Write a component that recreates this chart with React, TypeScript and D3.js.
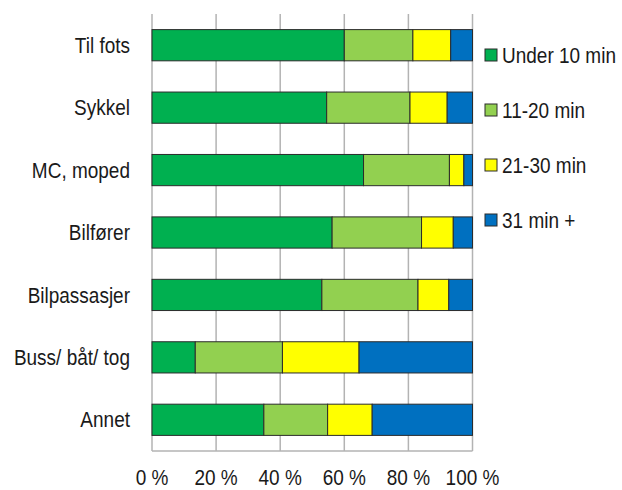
import React from "react";
import * as d3 from "d3";

const categories = ["Til fots", "Sykkel", "MC, moped", "Bilfører", "Bilpassasjer", "Buss/ båt/ tog", "Annet"];
const seriesNames = ["Under 10 min", "11-20 min", "21-30 min", "31 min +"];
const under10 = [60.0, 54.5, 66.0, 56.2, 53.0, 13.5, 34.9];
const min11to20 = [21.4, 26.0, 26.8, 27.9, 30.0, 27.2, 19.9];
const min21to30 = [11.8, 11.6, 4.5, 9.9, 9.6, 23.9, 13.9];
const min31plus = [6.8, 7.9, 2.7, 6.0, 7.4, 35.4, 31.3];
const tickValues = [0, 20, 40, 60, 80, 100];
const colors = ["#00B050", "#92D050", "#FFFF00", "#0070C0"];

const W = 622;
const H = 490;
const margin = { left: 152, right: 150, top: 14, bottom: 39 };
const font = "'Liberation Sans', Arial, sans-serif";
const sy = 1.12;

export default function App() {
  const x = d3.scaleLinear().domain([0, 100]).range([margin.left, 472.5]);
  const y = d3
    .scaleBand<string>()
    .domain(categories)
    .range([margin.top, H - margin.bottom])
    .paddingInner(0.5)
    .paddingOuter(0.25);

  const rows = categories.map((c, i) => ({
    cat: c,
    "0": under10[i],
    "1": min11to20[i],
    "2": min21to30[i],
    "3": min31plus[i],
  }));
  const stacked = d3.stack<any>().keys(["0", "1", "2", "3"])(rows);

  const y0 = margin.top;
  const y1 = H - margin.bottom;

  return (
    <svg width={W} height={H} style={{ position: "absolute", left: 0, top: 0, background: "#fff" }}>
      <rect x={0} y={0} width={W} height={H} fill="#fff" />
      {tickValues.map((t) => (
        <line key={t} x1={x(t)} x2={x(t)} y1={y0} y2={y1} stroke="#b3b3b3" strokeWidth={1.5} />
      ))}
      <line x1={x(0)} x2={x(100)} y1={y1} y2={y1} stroke="#b3b3b3" strokeWidth={1.5} />
      {stacked.map((layer, si) =>
        layer.map((d, i) => (
          <rect
            key={si + "-" + i}
            x={x(d[0])}
            y={y(categories[i])!}
            width={x(d[1]) - x(d[0])}
            height={y.bandwidth()}
            fill={colors[si]}
            stroke="#2b2b2b"
            strokeWidth={1}
          />
        ))
      )}
      {categories.map((c) => (
        <text
          key={c}
          transform={`translate(130, ${y(c)! + y.bandwidth() / 2 + 7.6}) scale(1, ${sy})`}
          textAnchor="end"
          fontFamily={font}
          fontSize={19}
          fill="#1a1a1a"
        >
          {c}
        </text>
      ))}
      {tickValues.map((t) => (
        <text
          key={t}
          transform={`translate(${x(t)}, 485) scale(1, ${sy})`}
          textAnchor="middle"
          fontFamily={font}
          fontSize={19}
          fill="#1a1a1a"
        >
          {t} %
        </text>
      ))}
      {seriesNames.map((s, i) => (
        <g key={s} transform={`translate(485, ${55 + i * 55})`}>
          <rect x={0} y={-6} width={12} height={12} fill={colors[i]} stroke="#2b2b2b" strokeWidth={1} />
          <text
            transform={`translate(17, 7.5) scale(1, ${sy})`}
            fontFamily={font}
            fontSize={19}
            fill="#1a1a1a"
          >
            {s}
          </text>
        </g>
      ))}
    </svg>
  );
}
